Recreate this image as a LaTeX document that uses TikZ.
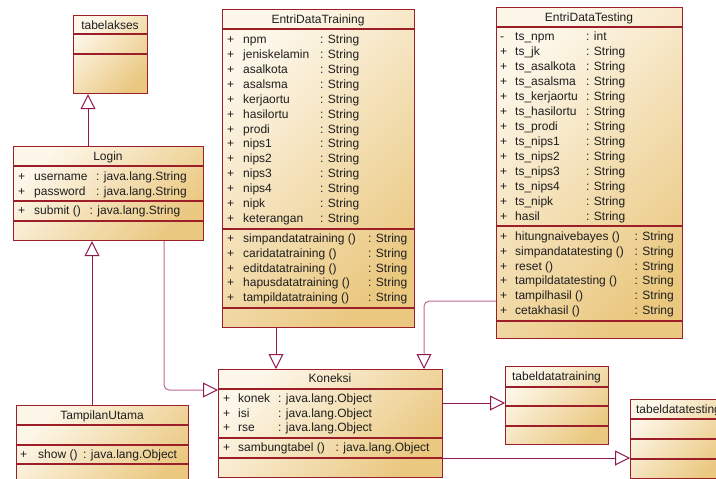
\documentclass[tikz,border=0pt]{standalone}
\usepackage{fontspec}
\setmainfont{Liberation Sans}
\usetikzlibrary{arrows.meta}
\definecolor{boxlight}{RGB}{253,247,234}
\definecolor{boxdark}{RGB}{234,200,128}
\definecolor{boxline}{RGB}{155,30,40}
\definecolor{darkline}{RGB}{145,25,80}
\definecolor{lightline}{RGB}{190,105,150}
\definecolor{txtcol}{RGB}{30,30,30}
\tikzset{
  umlbox/.style={draw=boxline, line width=1.2pt, top color=boxlight, bottom color=boxdark, shading angle=45, inner sep=0pt},
  sepline/.style={draw=boxline, line width=1.1pt},
  txt/.style={anchor=base west, inner sep=0pt, font=\fontsize{12}{14}\selectfont, text=txtcol},
  ttl/.style={anchor=base, inner sep=0pt, font=\fontsize{12}{14}\selectfont, text=txtcol},
  gen/.style={line width=1pt, draw=darkline, -{Triangle[open, length=15pt, width=15pt, fill=white, color=darkline]}},
  genl/.style={gen, draw=lightline},
}
\newcommand\umlbox[6]{%
  \node[umlbox, anchor=north west, minimum width={#4-#2}, minimum height={#5-#3}] (#1) at (#2,#3) {};
  \foreach \yy in {#6} {\draw[sepline] (#2,\yy) -- (#4,\yy);}
}
\newcommand\umlrows[7]{%
  \foreach \rS/\rN/\rT [count=\i from 0] in {#7}{%
    \node[txt] (#1s\i) at (#2,{#5+\i*#6}) {\rS};
    \node[txt] (#1n\i) at (#3,{#5+\i*#6}) {\rN};
    \node[txt] (#1t\i) at (#4,{#5+\i*#6}) {\rT};
  }%
}
\begin{document}
\begin{tikzpicture}[x=1pt, y=-1pt]
\useasboundingbox (0,0) rectangle (716,479);
\clip (0,0) rectangle (716,479);
% boxes
\umlbox{ta}{73}{15}{147}{93}{34,54}
\umlbox{login}{13}{146}{203}{240}{166,201,221}
\umlbox{edtr}{222}{9}{414}{327}{29,229,308}
\umlbox{edts}{496}{7}{682}{338}{27,226,321}
\umlbox{kon}{218}{369}{442}{477}{389,438,458}
\umlbox{tu}{16}{405}{188}{490}{425,445,464}
\umlbox{tdtr}{505}{366}{608}{444}{387,406,426}
\umlbox{tdts}{630}{399}{727}{478}{419,439,459}
% connectors
\draw[gen] ([xshift=75pt]login.north west) -- ([xshift=15pt]ta.south west);
\draw[gen] ([xshift=76pt]tu.north west) -- ([xshift=79pt]login.south west);
\draw[genl, rounded corners=5pt] ([xshift=151pt]login.south west) |- ([yshift=-21pt]kon.north west);
\draw[gen] ([xshift=54pt]edtr.south west) -- ([xshift=58pt]kon.north west);
\draw[genl, rounded corners=5pt] ([yshift=38pt]edts.south west) -| ([xshift=206pt]kon.north west);
\draw[gen] ([yshift=-34pt]kon.north east) -- ([yshift=-37pt]tdtr.north west);
\draw[gen] ([yshift=-89pt]kon.north east) -- ([yshift=-59pt]tdts.north west);
% titles
\node[ttl] (tat) at (110,29) {tabelakses};
\node[ttl] (lot) at (108,160) {Login};
\node[ttl] (trt) at (318,23.5) {EntriDataTraining};
\node[ttl] (tst) at (589,21.5) {EntriDataTesting};
\node[ttl] (kot) at (330,382) {Koneksi};
\node[ttl] (tut) at (102,419) {TampilanUtama};
\node[ttl] (tdrt) at (556.5,380.5) {tabeldatatraining};
\node[ttl] (tdst) at (678.5,413.3) {tabeldatatesting};
% rows
\umlrows{loa}{18}{34}{96}{180}{15.2}{+/username/: java.lang.String,+/password/: java.lang.String}
\umlrows{lom}{18}{34}{89.5}{214}{15}{+/submit ()/: java.lang.String}
\umlrows{tra}{227}{243}{320}{43.3}{14.95}{+/npm/: String,+/jeniskelamin/: String,+/asalkota/: String,+/asalsma/: String,+/kerjaortu/: String,+/hasilortu/: String,+/prodi/: String,+/nips1/: String,+/nips2/: String,+/nips3/: String,+/nips4/: String,+/nipk/: String,+/keterangan/: String}
\umlrows{trm}{227}{243}{368}{242.7}{14.75}{+/simpandatatraining ()/: String,+/caridatatraining ()/: String,+/editdatatraining ()/: String,+/hapusdatatraining ()/: String,+/tampildatatraining ()/: String}
\umlrows{tsa}{500}{515}{586}{40}{15}{-/ts\_npm/: int,+/ts\_jk/: String,+/ts\_asalkota/: String,+/ts\_asalsma/: String,+/ts\_kerjaortu/: String,+/ts\_hasilortu/: String,+/ts\_prodi/: String,+/ts\_nips1/: String,+/ts\_nips2/: String,+/ts\_nips3/: String,+/ts\_nips4/: String,+/ts\_nipk/: String,+/hasil/: String}
\umlrows{tsm}{500}{515}{634.5}{240.7}{14.7}{+/hitungnaivebayes ()/: String,+/simpandatatesting ()/: String,+/reset ()/: String,+/tampildatatesting ()/: String,+/tampilhasil ()/: String,+/cetakhasil ()/: String}
\umlrows{koa}{223}{238}{278}{402.3}{14.7}{+/konek/: java.lang.Object,+/isi/: java.lang.Object,+/rse/: java.lang.Object}
\umlrows{kom}{223}{238}{335.5}{451}{15}{+/sambungtabel ()/: java.lang.Object}
\umlrows{tum}{20}{38}{83}{458.3}{15}{+/show ()/: java.lang.Object}
\end{tikzpicture}
\end{document}
